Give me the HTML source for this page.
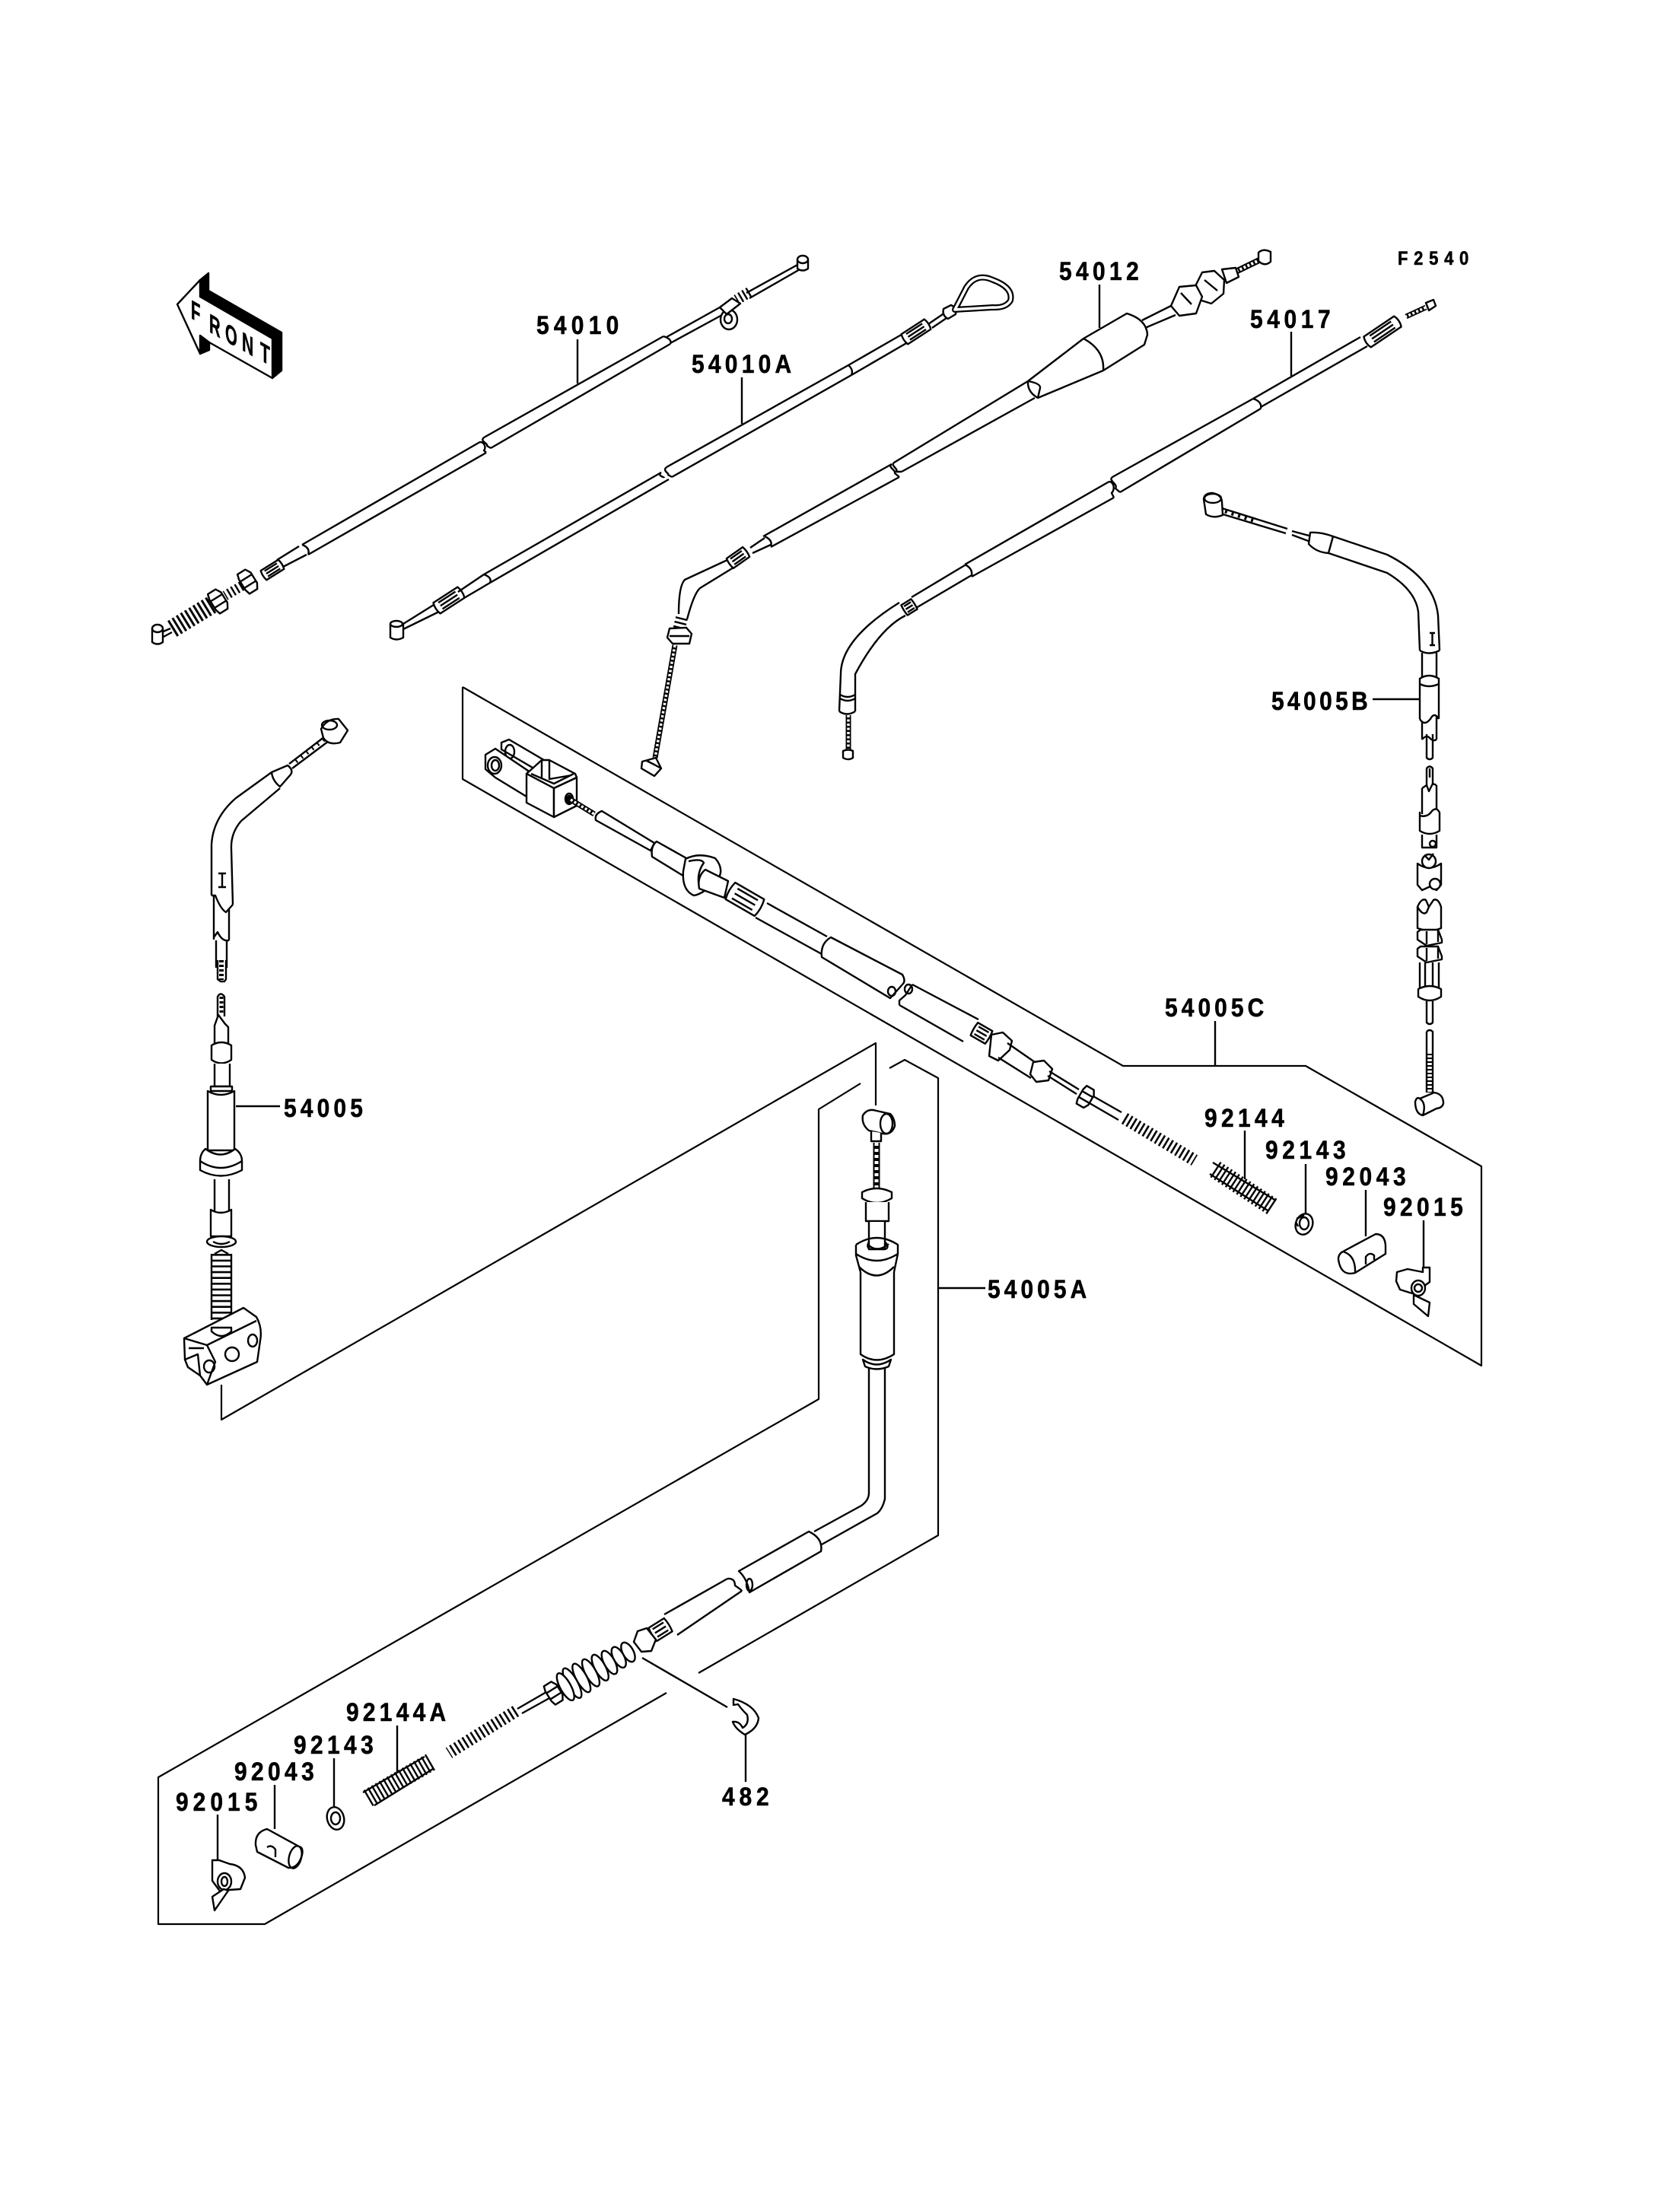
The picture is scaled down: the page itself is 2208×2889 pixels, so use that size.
<!DOCTYPE html>
<html><head><meta charset="utf-8"><style>
html,body{margin:0;padding:0;background:#fff}
svg{display:block}
path,line,ellipse,circle,polygon{stroke:#000;stroke-width:2.4;fill:none;stroke-linejoin:round;vector-effect:non-scaling-stroke}
.w{fill:#fff}
.k{fill:#000}
.f{stroke-width:2.2}
.b{stroke-width:7}
.wd{stroke:#fff;stroke-width:3.5;stroke-dasharray:3 2.5}
.c{stroke-dasharray:2.4 3.6}
text{font-family:"Liberation Sans",sans-serif;font-weight:bold;font-size:34px;fill:#000;stroke:#000;stroke-width:.6}
</style></head><body>
<svg xmlns="http://www.w3.org/2000/svg" width="2208" height="2889" viewBox="0 0 2208 2889">
<defs>
<g id="kn"><path class="w" d="M-20,-12 Q-23,0 -20,12 L20,12 Q23,0 20,-12 Z"/><path d="M-14,-7 H14 M-14,0 H14 M-14,7 H14"/></g>
<g id="nut"><path class="w" d="M-7,-15 L5,-15 L9,-8 L9,8 L5,15 L-7,15 L-9,8 L-9,-8 Z M-9,-5 H9 M-9,5 H9"/></g>
</defs>
<rect width="2208" height="2889" fill="#fff" stroke="none"/>

<!-- FRONT arrow -->
<polygon class="k" points="263,368 274,359 274,382 370,437 370,487 358,497 358,445 263,390"/>
<polygon class="k" points="263,441 275,450 275,460 263,465"/>
<polygon class="w" points="233,400 263,368 263,390 358,445 358,497 275,450 263,441 263,465"/>
<g>
<text style="font-size:35px" transform="translate(251,418) skewY(30) scale(.58,1)">F</text>
<text style="font-size:35px" transform="translate(275,436) skewY(30) scale(.58,1)">R</text>
<text style="font-size:35px" transform="translate(296,448) skewY(30) scale(.58,1)">O</text>
<text style="font-size:35px" transform="translate(318,460) skewY(30) scale(.6,1)">N</text>
<text style="font-size:35px" transform="translate(342,473) skewY(30) scale(.6,1)">T</text>
</g>

<!-- frames -->
<path class="f" d="M1131,1424 L1076,1458 V1839 L208,2336 V2529 H348 L876,2225"/>
<path class="f" d="M918,2199 L1233,2018 V1417 L1189,1393 L1169,1404"/>
<path class="f" d="M291,1820 V1866 L1151,1371 V1453"/>
<path class="f" d="M608,903 V1024 L1947,1795 V1533 L1716,1401 H1476 L608,903"/>

<!-- leaders -->
<path d="M759,446 V504 M975,496 V557 M1445,374 V431 M1697,436 V494 M1804,919 H1867 M368,1454 H310 M1597,1342 V1401 M1233,1693 H1295 M1636,1486 V1550 M1716,1530 V1595 M1795,1564 V1625 M1871,1604 V1666 M522,2268 V2329 M439,2311 V2374 M361,2346 V2404 M286,2385 V2445 M980,2280 V2342 M844,2179 L956,2244"/>

<!-- 54010 -->
<ellipse class="w" cx="958" cy="420" rx="11" ry="13"/><ellipse cx="957" cy="419" rx="5" ry="6"/>
<path class="w" d="M946,404 L962,392 L973,399 L955,413 Z"/>
<path d="M1050,347 L981,385 M1053,353 L985,392"/>
<line x1="985" y1="384" x2="968" y2="394" class="c" style="stroke-width:14"/>
<path class="w" d="M1048,341 V353 Q1055,358 1062,353 V341"/><ellipse class="w" cx="1055" cy="341" rx="7" ry="5"/>
<path d="M946,404 L876,443 M949,414 L881,451"/>
<path d="M872,442 L636,575 M881,452 L645,589 M872,442 Q884,446 881,452"/>
<path d="M636,575 C630,580 642,583 640,586 L645,589 M629,582 C635,578 640,588 636,592 L639,595"/>
<path d="M629,582 L397,716 M639,595 L405,729 M397,716 Q408,720 405,729"/>
<path d="M393,718 L364,736 M403,729 L372,745"/>
<use href="#kn" transform="translate(358,749) rotate(-32) scale(.68,.6)"/>
<line x1="318" y1="770" x2="296" y2="783" class="c" style="stroke-width:13"/>
<use href="#nut" transform="translate(326,764) rotate(-32)"/>
<use href="#nut" transform="translate(287,790) rotate(-32)"/>
<line x1="278" y1="795" x2="224" y2="828" style="stroke-width:24;stroke-dasharray:3 3.4"/>
<path d="M224,826 L210,832 M226,831 L213,838"/>
<path class="w" d="M200,826 V844 Q207,849 214,844 V826"/><ellipse class="w" cx="207" cy="826" rx="7" ry="5"/>

<!-- 54010A -->
<path d="M530,820 L570,795 M530,827 L579,803"/>
<path class="w" d="M513,820 V838 Q521,843 530,838 V820"/><ellipse class="w" cx="521" cy="820" rx="8" ry="4"/>
<use href="#kn" transform="translate(590,789) rotate(-33) scale(.95,.7)"/>
<path d="M602,778 L636,755 M610,786 L644,766"/>
<path d="M636,755 L869,621 M644,766 L879,630 M636,755 Q647,759 644,766"/>
<path d="M876,614 L1115,480 M883,627 L1119,493 M1115,480 Q1122,486 1119,493"/>
<path d="M869,621 C863,625 873,627 873,628 M876,614 C870,619 880,622 878,624 L883,627"/>
<path d="M1115,480 L1188,438 M1119,493 L1193,450"/>
<use href="#kn" transform="translate(1204,436) rotate(-33) scale(.9,.65)"/>
<path d="M1220,426 L1242,411 M1225,431 L1247,416"/>
<path class="w" d="M1240,406 L1250,401 Q1258,405 1256,413 L1246,419 Q1238,415 1240,406 Z"/>
<path d="M1255,407 L1270,378 Q1283,358 1305,368 Q1332,378 1328,395 Q1322,405 1305,404 Z" style="stroke-width:8"/>
<path d="M1255,407 L1270,378 Q1283,358 1305,368 Q1332,378 1328,395 Q1322,405 1305,404 Z" style="stroke:#fff;stroke-width:3.5"/>

<!-- 54012 -->
<line x1="1657" y1="341" x2="1622" y2="358" style="stroke-width:8"/>
<line x1="1657" y1="341" x2="1622" y2="358" style="stroke-width:4;stroke:#fff;stroke-dasharray:3 2.5"/>
<path class="w" d="M1654,332 Q1660,326 1670,331 V344 Q1662,351 1654,343 Z"/>
<path class="w" d="M1606,354 L1624,352 L1628,364 L1612,372 Z"/>
<path class="w" d="M1580,358 L1596,356 L1609,368 L1608,386 L1592,399 L1576,394 L1571,376 Z M1583,368 L1600,382"/>
<path class="w" d="M1550,377 L1572,375 L1580,390 L1572,412 L1550,415 L1539,402 Z M1552,385 L1566,400"/>
<path d="M1539,402 L1501,421 M1545,414 L1505,431"/>
<path class="w" d="M1481,412 Q1507,420 1508,440 L1504,453 L1450,487 L1364,523 Q1350,515 1351,501 L1424,445 Z"/>
<path d="M1424,445 Q1452,460 1450,487 M1351,501 Q1368,504 1367,510 L1364,523"/>
<path d="M1351,501 L1175,608 M1360,523 L1185,620 M1175,608 C1170,612 1181,616 1178,620 L1185,620"/>
<path d="M1172,610 L1003,705 M1182,627 L1013,719 M1172,610 C1166,614 1178,618 1176,622 L1182,627 M1005,705 Q1016,710 1013,718"/>
<path d="M1005,707 L986,720 M1013,716 L989,727"/>
<use href="#kn" transform="translate(970,733) rotate(-35) scale(.65,.65)"/>
<path d="M956,736 L900,762 Q892,770 892,807 M964,746 L920,773 Q912,780 903,814"/>
<line x1="896" y1="812" x2="892" y2="828" class="c" style="stroke-width:16"/>
<path class="w" d="M880,826 L902,825 L909,833 L906,846 L884,846 L877,838 Z M880,836 H906"/>
<line x1="887" y1="848" x2="861" y2="996" class="b"/>
<line x1="887" y1="848" x2="861" y2="996" class="wd"/>
<path class="w" d="M844,1001 L862,996 L869,1010 L860,1020 L843,1010 Z M850,1000 L860,1005 L869,1010"/>

<!-- 54017 -->
<line x1="1874" y1="404" x2="1848" y2="416" class="b"/>
<line x1="1874" y1="404" x2="1848" y2="416" class="wd"/>
<path class="w" d="M1874,398 L1884,394 L1887,402 L1878,408 Z"/>
<use href="#kn" transform="translate(1817,436) rotate(-34) scale(1.2,.7)"/>
<path d="M1788,443 L1647,524 M1797,455 L1657,535"/>
<path d="M1647,524 L1462,627 M1657,537 L1472,647 M1647,524 Q1659,528 1657,537"/>
<path d="M1462,627 C1456,632 1470,636 1466,642 L1472,647 M1456,634 C1462,630 1467,642 1461,648 L1464,654"/>
<path d="M1456,634 L1268,742 M1464,654 L1277,758 M1268,742 Q1279,747 1277,758"/>
<path d="M1268,743 L1198,785 M1277,756 L1204,799"/>
<use href="#kn" transform="translate(1195,798) rotate(-32) scale(.38,.65)"/>
<path d="M1182,792 Q1105,840 1105,886 L1103,935 M1190,809 Q1156,826 1124,886 V935 M1103,935 Q1113,942 1124,935 M1104,913 Q1114,919 1124,913 M1104,918 Q1114,924 1124,918"/>
<line x1="1115" y1="940" x2="1115" y2="988" class="b"/>
<line x1="1115" y1="940" x2="1115" y2="988" class="wd"/>
<path class="w" d="M1108,987 Q1115,984 1121,987 V996 Q1115,1000 1108,996 Z"/>

<!-- 54005B -->
<path d="M1606,668 L1692,695 M1604,675 L1690,701 M1698,698 L1724,705 M1698,703 L1722,712"/>
<line x1="1610" y1="672" x2="1650" y2="685" style="stroke-width:5;stroke-dasharray:3 6"/>
<path class="w" d="M1582,656 Q1583,648 1594,648 Q1606,651 1606,660 L1607,677 Q1595,682 1585,676 Z"/><ellipse cx="1594" cy="655" rx="11" ry="6"/>
<path class="w" d="M1722,700 Q1735,699 1752,705 L1746,727 Q1730,726 1720,715 Z"/>
<path d="M1752,705 L1823,729 Q1885,760 1890,809 L1892,855 M1746,727 L1823,753 Q1860,775 1864,804 L1866,855 M1866,855 Q1878,862 1892,855"/>
<path d="M1879,832 h7 m-3.5,0 v16 m-3.5,0 h7"/>
<path d="M1869,858 V891 M1888,858 V891 M1866,892 Q1878,884 1891,892 M1866,899 Q1878,905 1891,899 M1866,891 V945 M1891,891 V945 M1866,945 Q1872,955 1880,945 Q1885,935 1891,945 M1869,948 V972 M1888,942 V972 M1875,965 V996 Q1879,1000 1883,996 V965 M1869,972 Q1875,965 1879,970 Q1884,975 1888,972"/>
<path d="M1875,1032 V1010 Q1879,1005 1883,1010 V1032 M1879,1010 V1022"/>
<path d="M1869,1036 V1070 M1888,1032 V1070 M1869,1036 L1875,1032 L1878,1040 L1883,1030 L1888,1032"/>
<path class="w" d="M1866,1068 V1092 Q1879,1100 1892,1092 V1068 Q1888,1060 1882,1066 Q1876,1075 1866,1072 Z"/>
<path d="M1869,1097 V1114 H1888 V1097"/><circle class="w" cx="1883" cy="1109" r="4"/>
<path class="w" d="M1863,1135 V1163 L1869,1170 L1880,1165 L1888,1170 L1894,1163 V1135 Q1878,1146 1863,1135 Z"/>
<ellipse class="w" cx="1878" cy="1132" rx="9" ry="9"/><path d="M1872,1124 L1878,1130 L1884,1122"/>
<circle class="w" cx="1886" cy="1162" r="7"/>
<path class="w" d="M1863,1192 Q1868,1180 1874,1183 L1878,1192 L1884,1183 Q1890,1180 1894,1192 V1220 L1880,1225 L1863,1220 Z"/>
<path d="M1863,1192 Q1870,1204 1875,1199 L1878,1192"/>
<path class="w" d="M1863,1225 L1867,1222 L1890,1222 L1895,1235 V1239 L1875,1243 L1863,1235 Z M1875,1224 V1241 M1890,1222 V1238"/>
<path class="w" d="M1863,1247 L1867,1244 L1890,1244 L1895,1257 V1261 L1875,1265 L1863,1257 Z M1875,1246 V1263 M1890,1244 V1260"/>
<path d="M1866,1265 V1300 M1873,1265 V1300 M1883,1265 V1300 M1891,1265 V1300"/>
<path class="w" d="M1864,1300 Q1879,1292 1894,1300 V1310 Q1879,1320 1864,1310 Z"/>
<path d="M1875,1316 V1344 Q1879,1348 1883,1344 V1316 M1875,1356 Q1879,1352 1883,1356 V1436 M1875,1356 V1436"/>
<line x1="1879" y1="1385" x2="1879" y2="1436" style="stroke-width:6;stroke-dasharray:2 3"/>
<path class="w" d="M1860,1448 Q1862,1441 1866,1444 L1885,1436 Q1897,1438 1897,1450 Q1896,1456 1888,1457 L1870,1466 Q1860,1464 1860,1448 Z M1866,1444 Q1875,1450 1870,1466"/>

<!-- 54005 left -->
<path d="M427,968 L380,1004 M432,974 L384,1010"/>
<line x1="426" y1="972" x2="384" y2="1005" style="stroke-width:5;stroke-dasharray:2 7"/>
<path class="w" d="M422,958 Q430,944 445,945 L457,960 L447,976 Q432,980 425,970 Z"/><ellipse cx="433" cy="953" rx="10" ry="6"/>
<path class="w" d="M357,1015 L378,1006 Q386,1012 382,1018 L368,1034 Q358,1026 357,1015 Z"/>
<path d="M357,1015 L310,1049 Q280,1075 278,1110 V1177 M368,1036 L317,1079 Q303,1095 304,1116 L306,1189"/>
<path d="M287,1148 h10 m-5,0 v18 m-5,0 h10"/>
<path d="M278,1177 H283 Q290,1195 297,1199 L306,1189"/>
<path d="M281,1178 V1235 M301,1195 V1236 M281,1232 L286,1225 Q292,1238 301,1236"/>
<path d="M284,1236 V1272 M298,1236 V1272 M286,1262 V1287 L290,1290 H295 L297,1287 V1262"/>
<line x1="291" y1="1262" x2="291" y2="1288" style="stroke-width:6;stroke-dasharray:3 3"/>
<path d="M286,1336 V1310 Q290,1303 295,1310 V1336"/>
<line x1="291" y1="1310" x2="291" y2="1332" style="stroke-width:5;stroke-dasharray:3 3"/>
<path class="w" d="M282,1373 V1348 L287,1334 L296,1346 L300,1350 V1373 Q291,1382 282,1373 Z"/>
<path class="w" d="M278,1374 Q291,1366 304,1374 V1393 Q291,1402 278,1393 Z"/>
<path class="w" d="M282,1398 V1428 H302 V1398"/>
<path class="w" d="M277,1428 H305 V1434 H277 Z"/>
<path class="w" d="M273,1434 Q290,1444 308,1434 V1512 H273 Z"/>
<path class="w" d="M270,1510 Q263,1516 263,1526 V1538 Q290,1553 318,1538 V1526 Q318,1516 309,1510 Q290,1525 270,1510 Z M263,1526 Q290,1544 318,1526"/>
<path class="w" d="M282,1550 V1594 H301 V1550"/>
<path class="w" d="M277,1590 Q290,1598 304,1590 V1625 H277 Z"/>
<ellipse class="w" cx="291" cy="1632" rx="19" ry="7"/>
<path d="M280,1632 Q291,1638 302,1632"/>
<path d="M282,1648 L291,1643 L300,1648"/>
<line x1="291" y1="1648" x2="291" y2="1735" style="stroke-width:26;stroke-dasharray:2.6 5"/>
<path d="M278,1648 V1735 M304,1648 V1735"/>
<path class="w" d="M242,1759 L320,1719 L337,1731 Q345,1745 342,1762 L338,1790 L272,1820 L263,1808 L247,1797 L243,1787 Z"/>
<path d="M242,1759 L272,1768 L283,1790 L272,1820 M272,1768 L337,1736 M248,1772 L268,1772 M243,1787 L260,1780 L263,1808"/>
<path class="w" d="M278,1750 Q291,1762 304,1750 V1745 H278 Z"/>
<ellipse cx="275" cy="1796" rx="7" ry="8"/><ellipse cx="305" cy="1780" rx="9" ry="9"/><ellipse cx="332" cy="1762" rx="6" ry="8"/>

<!-- 54005C -->
<path class="w" d="M659,976 L669,972 L715,999 L712,1016 L659,985 Z"/>
<ellipse cx="670" cy="988" rx="6" ry="9"/>
<path class="w" d="M638,992 L651,984 L694,1013 L692,1047 L651,1022 L638,1011 Z"/>
<ellipse cx="650" cy="1006" rx="9" ry="11"/><ellipse cx="651" cy="1006" rx="5" ry="7"/>
<path class="w" d="M692,1017 L712,999 H722 L756,1017 L758,1022 L728,1036 Z"/>
<path d="M722,999 V1024 L751,1019 M712,999 V1024 M698,1017 L728,1030 L754,1017"/>
<path class="w" d="M692,1017 V1055 L728,1074 V1036 Z"/>
<path class="w" d="M728,1036 L758,1022 V1059 L728,1074 Z"/>
<ellipse class="k" cx="748" cy="1051" rx="3" ry="5"/><ellipse cx="748" cy="1050" rx="5" ry="7"/>
<line x1="750" y1="1051" x2="781" y2="1070" class="b"/>
<line x1="750" y1="1051" x2="781" y2="1070" class="wd"/>
<path class="w" d="M783,1078 Q781,1070 791,1066 L860,1108 L855,1118 Z"/>
<path class="w" d="M863,1106 L911,1133 L901,1153 L857,1126 Q855,1112 863,1106 Z"/>
<path class="w" d="M901,1129 Q918,1120 940,1128 Q952,1142 944,1155 Q925,1175 912,1177 Q896,1170 898,1145 Z"/>
<path d="M905,1132 Q922,1128 925,1134 Q915,1148 919,1166"/>
<path class="w" d="M927,1143 L957,1158 L952,1180 L919,1168 Q916,1152 927,1143 Z"/>
<use href="#kn" transform="translate(979,1182) rotate(30) scale(1.1,1.05)"/>
<path d="M1008,1187 L1087,1231 M993,1206 L1080,1254"/>
<path class="w" d="M1092,1232 L1186,1281 Q1191,1290 1186,1294 L1170,1312 L1080,1258 Q1078,1240 1092,1232 Z"/>
<ellipse cx="1172" cy="1303" rx="5" ry="6"/>
<ellipse cx="1194" cy="1300" rx="5" ry="6"/>
<path d="M1199,1294 L1286,1340 M1182,1321 L1266,1369 M1199,1294 L1190,1308 L1182,1315 V1321"/>
<use href="#kn" transform="translate(1290,1358) rotate(30) scale(.55,.8)"/>
<path class="w" d="M1303,1360 L1318,1357 L1330,1368 L1327,1380 L1312,1394 L1300,1388 Z"/>
<path d="M1324,1371 L1360,1396 M1312,1390 L1355,1417"/>
<path class="w" d="M1358,1396 L1372,1394 L1383,1405 L1378,1420 L1362,1422 L1354,1412 Z"/>
<path d="M1379,1408 L1418,1432 M1377,1414 L1415,1438"/>
<use href="#nut" transform="translate(1427,1442) rotate(30) scale(.9,.9)"/>
<path d="M1437,1441 L1474,1462 M1432,1450 L1470,1472"/>
<line x1="1478" y1="1470" x2="1570" y2="1525" class="c" style="stroke-width:16;stroke-dasharray:2.6 3.6"/>
<line x1="1597" y1="1537" x2="1672" y2="1586" style="stroke-width:24;stroke-dasharray:2.4 3.4"/>
<path d="M1594,1528 L1677,1578 M1590,1543 L1666,1591"/>
<ellipse class="w" cx="1714" cy="1609" rx="11" ry="14" transform="rotate(20 1714 1609)"/>
<ellipse cx="1714" cy="1608" rx="6" ry="8"/>
<path d="M1704,1602 L1714,1597 M1706,1612 L1703,1606"/>
<path class="w" d="M1765,1645 L1808,1622 Q1820,1622 1821,1637 V1648 L1781,1673 Q1762,1678 1759,1655 Q1759,1648 1765,1645 Z"/>
<path d="M1765,1645 Q1782,1650 1781,1673"/>
<path d="M1795,1662 V1652 Q1800,1645 1806,1650 V1656"/>
<path class="w" d="M1836,1672 L1850,1668 L1870,1672 L1870,1666 L1879,1666 V1685 L1864,1696 L1856,1700 L1840,1695 L1835,1684 Z"/>
<ellipse class="w" cx="1864" cy="1693" rx="9" ry="10"/><ellipse cx="1864" cy="1693" rx="5" ry="5"/>
<path class="w" d="M1858,1702 L1879,1712 L1877,1730 L1858,1714 Z"/>

<!-- 54005A -->
<path class="w" d="M1134,1466 Q1140,1456 1152,1460 L1170,1464 Q1176,1470 1176,1480 Q1172,1492 1160,1490 L1142,1486 Q1132,1478 1134,1466 Z"/>
<ellipse cx="1165" cy="1477" rx="8" ry="13"/>
<path class="w" d="M1145,1487 V1500 H1158 V1489"/>
<line x1="1152" y1="1502" x2="1152" y2="1567" style="stroke-width:9"/>
<line x1="1152" y1="1502" x2="1152" y2="1567" style="stroke:#fff;stroke-width:5;stroke-dasharray:4 4"/>
<path class="w" d="M1133,1567 Q1152,1557 1172,1567 V1575 Q1152,1587 1133,1575 Z"/>
<path class="w" d="M1138,1580 V1605 H1168 V1580"/>
<path class="w" d="M1142,1606 V1642 H1163 V1606"/>
<path d="M1125,1636 Q1152,1618 1180,1636 V1648 L1175,1672 M1125,1636 V1650 L1131,1672 M1125,1648 Q1152,1666 1180,1648 M1129,1665 Q1152,1688 1175,1665 M1140,1635 Q1152,1648 1168,1635 M1142,1632 Q1138,1640 1144,1642 M1163,1632 Q1170,1640 1163,1642"/>
<path d="M1131,1672 V1780 Q1152,1795 1175,1780 V1672"/>
<path class="w" d="M1134,1787 Q1152,1800 1171,1787 L1168,1796 Q1152,1803 1137,1796 Z"/>
<path d="M1142,1797 V1962 Q1142,1972 1132,1979 L1070,2013 M1163,1797 V1970 Q1160,1983 1153,1989 L1080,2030"/>
<path class="w" d="M1063,2013 L971,2065 Q982,2075 985,2093 L1079,2039 Q1082,2022 1063,2013 Z"/>
<ellipse cx="985" cy="2083" rx="4" ry="8"/>
<path d="M956,2075 L873,2122 M975,2091 L890,2149 M956,2075 Q966,2074 966,2084 Q975,2090 975,2091"/>
<use href="#kn" transform="translate(868,2142) rotate(-32) scale(.6,.85)"/>
<path class="w" d="M838,2144 L850,2140 L862,2155 L856,2170 L843,2171 L833,2158 Z"/>
<g transform="translate(738,2220) rotate(-29)">
<ellipse class="w" cx="100" cy="0" rx="7" ry="14"/><ellipse class="w" cx="86" cy="0" rx="7" ry="15"/><ellipse class="w" cx="72" cy="0" rx="7" ry="17"/><ellipse class="w" cx="58" cy="0" rx="7" ry="19"/><ellipse class="w" cx="44" cy="0" rx="7" ry="20"/><ellipse class="w" cx="30" cy="0" rx="7" ry="21"/><ellipse class="w" cx="16" cy="0" rx="7" ry="22"/><ellipse class="w" cx="6" cy="0" rx="7" ry="20"/>
</g>
<use href="#nut" transform="translate(728,2225) rotate(-32) scale(.95,.95)"/>
<path d="M718,2224 L680,2246 M722,2232 L686,2252"/>
<line x1="678" y1="2249" x2="590" y2="2304" style="stroke-width:16;stroke-dasharray:2.6 3.8"/>
<line x1="566" y1="2316" x2="483" y2="2364" style="stroke-width:24;stroke-dasharray:2.4 3.4"/>
<path d="M558,2309 L477,2356 M569,2325 L492,2373"/>
<ellipse class="w" cx="441" cy="2390" rx="11" ry="15" transform="rotate(-15 441 2390)"/><ellipse cx="441" cy="2390" rx="6" ry="8"/>
<path class="w" d="M351,2404 Q335,2408 336,2425 L338,2434 L379,2455 Q392,2456 397,2438 Q399,2428 393,2427 Z"/>
<ellipse cx="388" cy="2441" rx="8" ry="15" transform="rotate(15 388 2441)"/>
<path d="M351,2428 Q357,2424 362,2431 V2441"/>
<path class="w" d="M279,2445 H288 L302,2450 Q320,2452 322,2468 L316,2483 L302,2484 L290,2487 L279,2472 Z"/>
<ellipse class="w" cx="295" cy="2473" rx="9" ry="11"/><ellipse cx="295" cy="2473" rx="4" ry="6"/>
<path class="w" d="M300,2485 L282,2511 L279,2493 L294,2483 Z"/>
<path d="M964,2233 Q990,2240 997,2258 Q996,2272 979,2280 Q966,2272 963,2263 Q972,2262 976,2271 Q985,2266 982,2254 Q974,2246 970,2240 L964,2241 Z"/>

<!-- labels -->
<text transform="translate(705,439) scale(.88,1)" textLength="123">54010</text>
<text transform="translate(909,490) scale(.88,1)" textLength="149">54010A</text>
<text transform="translate(1392,368) scale(.88,1)" textLength="119">54012</text>
<text transform="translate(1643,431) scale(.88,1)" textLength="120">54017</text>
<text transform="translate(1837,348) scale(.88,1)" textLength="106" style="font-size:25px">F2540</text>
<text transform="translate(1671,933) scale(.88,1)" textLength="144">54005B</text>
<text transform="translate(373,1468) scale(.88,1)" textLength="118">54005</text>
<text transform="translate(1531,1336) scale(.88,1)" textLength="148">54005C</text>
<text transform="translate(1583,1481) scale(.88,1)" textLength="119">92144</text>
<text transform="translate(1663,1523) scale(.88,1)" textLength="120">92143</text>
<text transform="translate(1742,1558) scale(.88,1)" textLength="120">92043</text>
<text transform="translate(1818,1598) scale(.88,1)" textLength="119">92015</text>
<text transform="translate(1298,1706) scale(.88,1)" textLength="148">54005A</text>
<text transform="translate(455,2262) scale(.88,1)" textLength="149">92144A</text>
<text transform="translate(386,2305) scale(.88,1)" textLength="119">92143</text>
<text transform="translate(308,2340) scale(.88,1)" textLength="119">92043</text>
<text transform="translate(231,2380) scale(.88,1)" textLength="122">92015</text>
<text transform="translate(949,2373) scale(.88,1)" textLength="70">482</text>
</svg>
</body></html>
